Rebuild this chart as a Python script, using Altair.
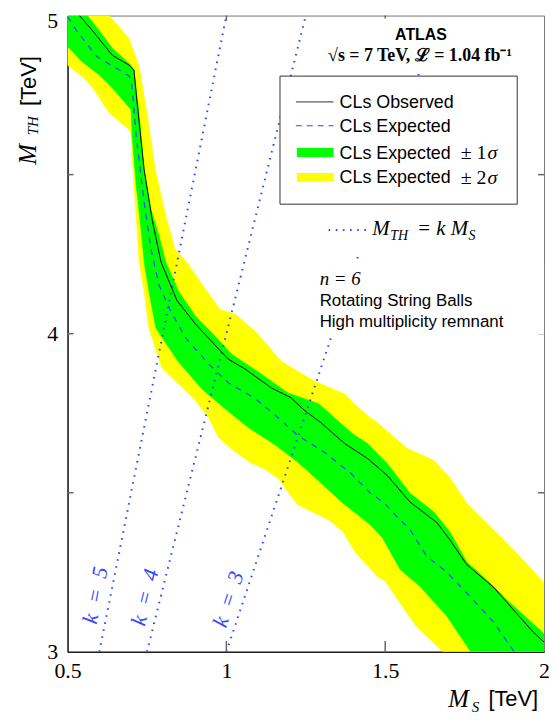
import altair as alt
import pandas as pd

W, H = 480, 641

# ---------------- data ----------------
obs_ms = [0.5375, 0.578, 0.641, 0.694, 0.709, 0.719, 0.741, 0.766, 0.794, 0.844, 0.903, 1.006, 1.059,
          1.141, 1.203, 1.247, 1.297, 1.372, 1.444, 1.506, 1.578, 1.663, 1.703, 1.756, 1.841, 1.966, 2.0]
obs_mth = [5.0, 4.953, 4.875, 4.844, 4.828, 4.725, 4.516, 4.360, 4.226, 4.105, 4.030, 3.920, 3.889,
           3.830, 3.799, 3.758, 3.721, 3.655, 3.608, 3.555, 3.471, 3.406, 3.353, 3.275, 3.203, 3.062, 3.031]

exp_ms = [0.5, 0.528, 0.591, 0.694, 0.703, 0.716, 0.741, 0.7625, 0.7875, 0.825, 0.872, 0.944, 1.006,
          1.091, 1.1625, 1.225, 1.309, 1.391, 1.453, 1.497, 1.5375, 1.578, 1.631, 1.694, 1.766, 1.841, 1.906]
exp_mth = [4.997, 4.953, 4.872, 4.810, 4.778, 4.622, 4.413, 4.267, 4.154, 4.070, 3.986, 3.905, 3.846,
           3.796, 3.736, 3.680, 3.627, 3.562, 3.499, 3.468, 3.424, 3.384, 3.300, 3.250, 3.175, 3.094, 3.0]

# +-2 sigma band edges
s2_hi_ms = [0.631, 0.694, 0.725, 0.75, 0.778, 0.809, 0.8375, 0.875, 0.928, 0.981, 1.028, 1.091, 1.172,
            1.275, 1.372, 1.403, 1.444, 1.475, 1.569, 1.653, 1.703, 1.756, 1.872, 1.9125, 2.0]
s2_hi_mth = [5.0, 4.928, 4.841, 4.694, 4.507, 4.373, 4.267, 4.226, 4.148, 4.076, 4.061, 4.008, 3.914,
             3.852, 3.811, 3.780, 3.743, 3.721, 3.640, 3.602, 3.549, 3.468, 3.353, 3.312, 3.218]
s2_lo_ms = [0.5, 0.553, 0.584, 0.631, 0.694, 0.7, 0.709, 0.719, 0.725, 0.741, 0.756, 0.797, 0.85, 0.903,
            0.944, 0.975, 1.022, 1.078, 1.116, 1.1625, 1.194, 1.225, 1.322, 1.366, 1.406, 1.475, 1.5,
            1.553, 1.597, 1.681]
s2_lo_mth = [4.844, 4.803, 4.766, 4.694, 4.641, 4.626, 4.466, 4.329, 4.226, 4.133, 4.017, 3.892, 3.842,
             3.789, 3.736, 3.674, 3.633, 3.593, 3.577, 3.546, 3.502, 3.462, 3.415, 3.378, 3.312, 3.237,
             3.222, 3.144, 3.081, 3.0]

# +-1 sigma band edges
s1_hi_ms = [0.5625, 0.6, 0.641, 0.7, 0.709, 0.725, 0.741, 0.7625, 0.7875, 0.809, 0.85, 0.903, 0.959,
            1.016, 1.109, 1.194, 1.291, 1.35, 1.397, 1.444, 1.506, 1.578, 1.653, 1.703, 1.756, 1.841,
            1.891, 1.984, 2.0]
s1_hi_mth = [5.0, 4.953, 4.897, 4.844, 4.828, 4.694, 4.516, 4.392, 4.310, 4.226, 4.133, 4.055, 3.998,
             3.936, 3.874, 3.814, 3.780, 3.727, 3.686, 3.655, 3.593, 3.499, 3.440, 3.378, 3.284, 3.206,
             3.156, 3.072, 3.056]
s1_lo_ms = [0.5, 0.544, 0.6, 0.641, 0.7, 0.703, 0.716, 0.731, 0.741, 0.756, 0.778, 0.847, 0.922, 0.991,
            1.069, 1.156, 1.225, 1.2875, 1.366, 1.45, 1.491, 1.547, 1.609, 1.694, 1.769]
s1_lo_mth = [4.903, 4.856, 4.813, 4.772, 4.704, 4.622, 4.466, 4.329, 4.226, 4.133, 4.017, 3.914, 3.827,
             3.768, 3.705, 3.649, 3.596, 3.540, 3.468, 3.402, 3.359, 3.259, 3.206, 3.112, 3.0]

# M_TH = k M_S reference lines (end points)
k_values = [5, 4, 3]
k_ms_low = [0.6, 0.75, 1.0]
k_ms_high = [1.0, 1.25, 1.667]
k_mth_range = [3.0, 5.0]

x_label_values = [0.5, 1, 1.5, 2]
y_label_values = [3, 4, 5]
x_inner_ticks = [1.0, 1.5]
y_inner_ticks = [3.5, 4.0, 4.5]

x_corner = [0.5, 2.0]
y_corner = [3.0, 5.0]

# ---------------- helpers ----------------
def band_polygon(hi_ms, hi_mth, lo_ms, lo_mth):
    pts = (list(zip(hi_ms, hi_mth)) + [(x_corner[1], y_corner[0])]
           + list(zip(lo_ms, lo_mth))[::-1] + [(x_corner[0], y_corner[1])])
    return pd.DataFrame({"ms": [p[0] for p in pts], "mth": [p[1] for p in pts],
                         "i": list(range(len(pts)))})


def series(ms, mth):
    return pd.DataFrame({"ms": ms, "mth": mth, "i": list(range(len(ms)))})


one = pd.DataFrame({"z": [0]})
SERIF = "Liberation Serif"
SANS = "Liberation Sans"
BLUE = "#3347ff"


def label(text, x, y, size=17, font=SANS, style="normal", weight="normal", align="left",
          baseline="alphabetic", angle=0, color="black"):
    return alt.Chart(one).mark_text(text=text, fontSize=size, font=font, fontStyle=style,
                                    fontWeight=weight, align=align, baseline=baseline,
                                    angle=angle, color=color).encode(x=alt.value(x), y=alt.value(y))


def box(x, x2, y, y2, stroke=None):
    kw = dict(fill="white")
    if stroke:
        kw.update(stroke=stroke, strokeWidth=1)
    return alt.Chart(one).mark_rect(**kw).encode(x=alt.value(x), x2=alt.value(x2),
                                                 y=alt.value(y), y2=alt.value(y2))


def seg(x, x2, y, y2, color, sw, dash=None):
    kw = dict(color=color, strokeWidth=sw, strokeCap="butt")
    if dash:
        kw["strokeDash"] = dash
    return alt.Chart(one).mark_rule(**kw).encode(x=alt.value(x), x2=alt.value(x2),
                                                 y=alt.value(y), y2=alt.value(y2))


xscale = alt.Scale(domain=[0.5, 2], nice=False, zero=False)
yscale = alt.Scale(domain=[3, 5], nice=False, zero=False)
xaxis = alt.Axis(values=x_label_values, format="~g", tickSize=0, labelFont=SERIF, labelFontSize=22,
                 labelColor="black", labelPadding=9, domainColor="#222", domainWidth=1.5,
                 grid=False, title=None, labelFlush=False, labelOverlap=False)
yaxis = alt.Axis(values=y_label_values, format="~g", tickSize=0, labelFont=SERIF, labelFontSize=22,
                 labelColor="black", labelPadding=10, domainColor="#222", domainWidth=1.5,
                 grid=False, title=None, labelFlush=False, labelOverlap=False,
                 labelOffset={"condition": {"test": "datum.value == 5", "value": 5}, "value": 0})
X = alt.X("ms:Q", scale=xscale, axis=xaxis)
Y = alt.Y("mth:Q", scale=yscale, axis=yaxis)

layers = []

# bands
layers.append(alt.Chart(band_polygon(s2_hi_ms, s2_hi_mth, s2_lo_ms, s2_lo_mth)).mark_line(
    fill="#ffff00", stroke="#ffff00", strokeWidth=0.5, clip=True).encode(x=X, y=Y, order="i:Q"))
layers.append(alt.Chart(band_polygon(s1_hi_ms, s1_hi_mth, s1_lo_ms, s1_lo_mth)).mark_line(
    fill="#00ff00", stroke="#00ff00", strokeWidth=0.5, clip=True).encode(x=X, y=Y, order="i:Q"))

# k lines
k_rows = []
for k, lo, hi in zip(k_values, k_ms_low, k_ms_high):
    k_rows.append({"k": k, "ms": lo, "mth": k_mth_range[0]})
    k_rows.append({"k": k, "ms": hi, "mth": k_mth_range[1]})
layers.append(alt.Chart(pd.DataFrame(k_rows)).mark_line(
    color=BLUE, strokeWidth=2, strokeDash=[1.6, 5.6], clip=True).encode(x=X, y=Y, detail="k:N"))

# expected / observed
layers.append(alt.Chart(series(exp_ms, exp_mth)).mark_line(
    color=BLUE, strokeWidth=1.2, strokeDash=[6, 6], clip=True).encode(x=X, y=Y, order="i:Q"))
layers.append(alt.Chart(series(obs_ms, obs_mth)).mark_line(
    color="black", strokeWidth=1, clip=True).encode(x=X, y=Y, order="i:Q"))

# inner ticks
layers.append(alt.Chart(pd.DataFrame({"ms": x_inner_ticks})).mark_rule(color="#666", strokeWidth=1.5)
              .encode(x=X, y=alt.value(H), y2=alt.value(H - 11)))
layers.append(alt.Chart(pd.DataFrame({"ms": x_inner_ticks})).mark_rule(color="#666", strokeWidth=1.5)
              .encode(x=X, y=alt.value(0), y2=alt.value(5)))
layers.append(alt.Chart(pd.DataFrame({"mth": y_inner_ticks})).mark_rule(color="#666", strokeWidth=1.5)
              .encode(y=Y, x=alt.value(0), x2=alt.value(6)))
layers.append(alt.Chart(pd.DataFrame({"mth": y_inner_ticks})).mark_rule(color="#666", strokeWidth=1.5)
              .encode(y=Y, x=alt.value(W - 6), x2=alt.value(W)))

# white boxes masking reference lines
layers.append(box(244, 467, 3, 58))
layers.append(box(254, 457, 190, 240))
layers.append(box(250, 480, 249, 321))
layers.append(box(214, 453, 61, 190, stroke="#333"))

# ATLAS label
layers.append(label("ATLAS", 356, 20, size=16, weight="bold", align="center", baseline="middle"))
layers.append(label("√s = 7 TeV, ℒ = 1.04 fb⁻¹", 355, 41, size=18, font=SERIF, weight="bold",
                    align="center", baseline="middle"))

# legend
layers.append(seg(230, 268, 87, 87, "#333", 1))
layers.append(seg(230, 268, 111, 111, BLUE, 1.2, dash=[6, 5]))
layers.append(seg(231, 268, 138, 138, "#00ff00", 9))
layers.append(seg(231, 268, 163, 163, "#ffff00", 9))
layers.append(label("CLs Observed", 274, 88, size=18, baseline="middle"))
layers.append(label("CLs Expected", 274, 112, size=18, baseline="middle"))
layers.append(label("CLs Expected", 274, 139, size=18, baseline="middle"))
layers.append(label("CLs Expected", 274, 164, size=18, baseline="middle"))
layers.append(label("± 1", 396, 139, size=20, font=SERIF, baseline="middle"))
layers.append(label("σ", 423, 139, size=20, font=SERIF, style="italic", baseline="middle"))
layers.append(label("± 2", 396, 164, size=20, font=SERIF, baseline="middle"))
layers.append(label("σ", 423, 164, size=20, font=SERIF, style="italic", baseline="middle"))

# M_TH = k M_S entry
layers.append(seg(263, 302, 216, 216, BLUE, 2, dash=[1.6, 5.6]))
layers.append(label("M", 307, 221, size=21, font=SERIF, style="italic"))
layers.append(label("TH", 325, 226, size=14, font=SERIF, style="italic"))
layers.append(label("= k", 352, 221, size=21, font=SERIF, style="italic"))
layers.append(label("M", 386, 221, size=21, font=SERIF, style="italic"))
layers.append(label("S", 404, 226, size=14, font=SERIF, style="italic"))

# model text
layers.append(label("n = 6", 254, 271, size=19, font=SERIF, style="italic"))
layers.append(label("Rotating String Balls", 254, 293, size=17))
layers.append(label("High multiplicity remnant", 254, 314, size=17))

# k labels
layers.append(label("k\u2002=\u20025", 28, 584, size=22, font=SERIF, style="italic", color=BLUE,
                    align="center", baseline="middle", angle=281.3))
layers.append(label("k\u2002=\u20024", 78, 586, size=22, font=SERIF, style="italic", color=BLUE,
                    align="center", baseline="middle", angle=284))
layers.append(label("k\u2002=\u20023", 162, 588, size=22, font=SERIF, style="italic", color=BLUE,
                    align="center", baseline="middle", angle=288.4))

# axis titles
layers.append(label("[TeV]", -39, 66, size=22, align="center", baseline="middle", angle=270))
layers.append(label("TH", -35, 111, size=15, font=SERIF, style="italic", align="center",
                    baseline="middle", angle=270))
layers.append(label("M", -40, 140, size=25, font=SERIF, style="italic", align="center",
                    baseline="middle", angle=270))
layers.append(label("M", 394, 697, size=25, font=SERIF, style="italic", align="center"))
layers.append(label("S", 411, 702, size=15, font=SERIF, style="italic", align="center"))
layers.append(label("[TeV]", 449, 696, size=22, align="center"))

chart = alt.layer(*layers).properties(
    width=W, height=H,
    autosize=alt.AutoSizeParams(type="none"),
    padding={"left": 60, "top": 5, "right": 6, "bottom": 62},
).configure_view(stroke="#777", strokeWidth=1)

chart.save("out.html", embed_options={"renderer": "svg", "actions": False})
